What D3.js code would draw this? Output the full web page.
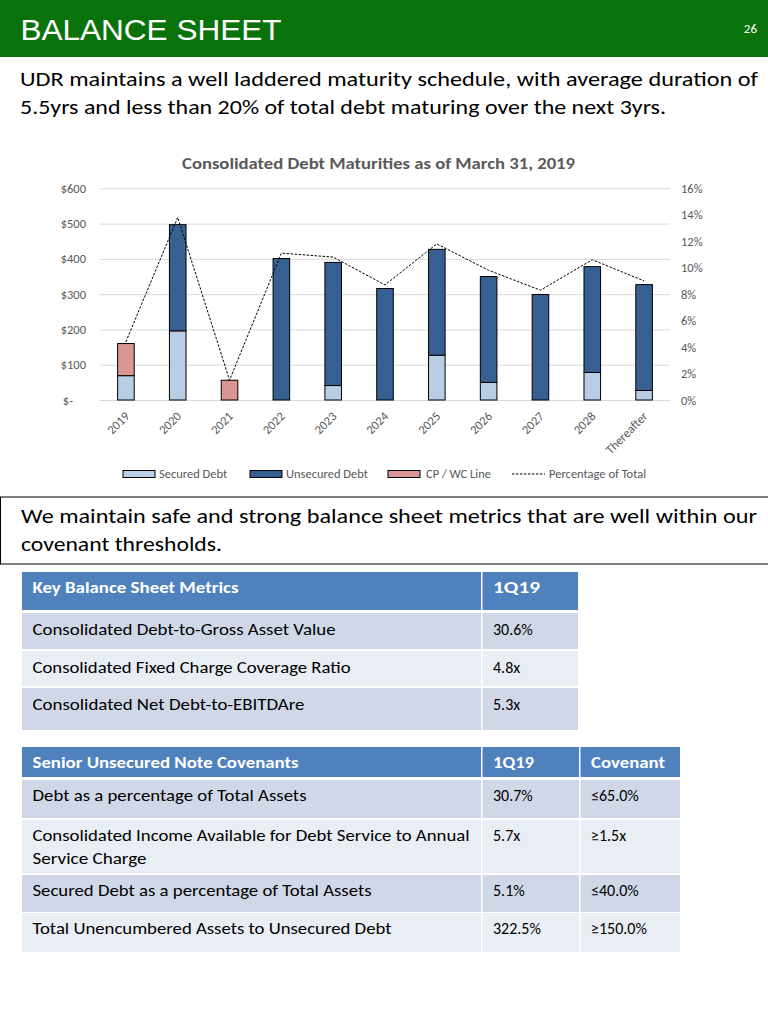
<!DOCTYPE html>
<html>
<head>
<meta charset="utf-8">
<script src="https://cdn.jsdelivr.net/npm/d3@7"></script>
<style>
  html, body { margin: 0; padding: 0; background: #fff; }
  svg { display: block; }
</style>
</head>
<body>
<div id="chart"></div>
<script>
// ---------------- data ----------------
const categories = ["2019","2020","2021","2022","2023","2024","2025","2026","2027","2028","Thereafter"];
const securedDebt   = [69, 196, 0, 0, 41, 0, 127, 50, 0, 78, 27];
const unsecuredDebt = [0, 301, 0, 401, 349, 316, 300, 300, 299, 300, 300];
const cpWcLine      = [91, 0, 56, 0, 0, 0, 0, 0, 0, 0, 0];
const pctOfTotal    = [4.4, 13.8, 1.5, 11.1, 10.8, 8.7, 11.8, 9.8, 8.3, 10.6, 9.0];
const dollarTicks   = [0, 100, 200, 300, 400, 500, 600];
const pctTicks      = [0, 2, 4, 6, 8, 10, 12, 14, 16];
const seriesNames   = ["Secured Debt", "Unsecured Debt", "CP / WC Line", "Percentage of Total"];

const pageTitle = "BALANCE SHEET";
const pageNumber = "26";
const introLines = ["UDR maintains a well laddered maturity schedule, with average duration of",
                    "5.5yrs and less than 20% of total debt maturing over the next 3yrs."];
const chartTitle = "Consolidated Debt Maturities as of March 31, 2019";
const boxLines = ["We maintain safe and strong balance sheet metrics that are well within our",
                  "covenant thresholds."];

const metricsHeader = ["Key Balance Sheet Metrics", "1Q19"];
const metricsNames  = ["Consolidated Debt-to-Gross Asset Value", "Consolidated Fixed Charge Coverage Ratio", "Consolidated Net Debt-to-EBITDAre"];
const metricsValues = ["30.6%", "4.8x", "5.3x"];

const covenantHeader = ["Senior Unsecured Note Covenants", "1Q19", "Covenant"];
const covenantNames  = [["Debt as a percentage of Total Assets"],
                        ["Consolidated Income Available for Debt Service to Annual", "Service Charge"],
                        ["Secured Debt as a percentage of Total Assets"],
                        ["Total Unencumbered Assets to Unsecured Debt"]];
const covenantValues = ["30.7%", "5.7x", "5.1%", "322.5%"];
const covenantLimits = ["\u226465.0%", "\u22651.5x", "\u226440.0%", "\u2265150.0%"];

// ---------------- setup ----------------
const W = 768, H = 1018;
const FONT = "Carlito, Calibri, Lato, 'Open Sans', sans-serif";
const svg = d3.select("#chart").append("svg").attr("width", W).attr("height", H);
svg.append("rect").attr("width", W).attr("height", H).attr("fill", "#fff");

function text(g, o) {
  const t = g.append("text")
    .attr("x", o.x).attr("y", o.y)
    .attr("font-family", o.family || FONT)
    .attr("font-size", o.size)
    .attr("font-weight", o.weight || "normal")
    .attr("fill", o.fill || "#000")
    .attr("text-anchor", o.anchor || "start")
    .text(o.text);
  if (o.len) {
    t.attr("textLength", o.len).attr("lengthAdjust", "spacingAndGlyphs");
  }
  return t;
}

// ---------------- header ----------------
svg.append("rect").attr("x", 0).attr("y", 0).attr("width", W).attr("height", 57).attr("fill", "#0a720a");
text(svg, {x: 20.5, y: 40, text: pageTitle, size: 30, family: "Arial, 'Liberation Sans', sans-serif", fill: "#fff", len: 261});
text(svg, {x: 757, y: 33, text: pageNumber, size: 13, fill: "#fff", anchor: "end"});

text(svg, {x: 20, y: 86, text: introLines[0], size: 20, len: 738});
text(svg, {x: 20, y: 114.3, text: introLines[1], size: 20, len: 646});

// ---------------- chart ----------------
const plot = {left: 100, right: 670, top: 188.3, bottom: 400};
const x = d3.scaleBand().domain(categories).range([plot.left, plot.right]).paddingInner(0.68).paddingOuter(0.34);
const y = d3.scaleLinear().domain([0, 600]).range([plot.bottom, plot.top]);
const yp = d3.scaleLinear().domain([0, 16]).range([plot.bottom, plot.top]);

const chart = svg.append("g");
text(chart, {x: 378.5, y: 168.5, text: chartTitle, size: 16, weight: "bold", fill: "#595959", anchor: "middle", len: 393});

// gridlines
const grid = chart.append("g").attr("transform", `translate(${plot.left},0)`)
  .call(d3.axisLeft(y).tickValues(dollarTicks).tickSize(-(plot.right - plot.left)).tickFormat(""));
grid.select(".domain").remove();
grid.selectAll(".tick line").attr("stroke", "#d9d9d9").attr("stroke-width", 1);

// left axis labels
const yAx = chart.append("g").attr("transform", `translate(${plot.left},0)`)
  .call(d3.axisLeft(y).tickValues(dollarTicks).tickSize(0).tickPadding(14)
    .tickFormat(d => d === 0 ? "$-" : "$" + d));
yAx.select(".domain").remove();
yAx.selectAll("text").attr("font-family", FONT).attr("font-size", 12.5).attr("fill", "#595959");
yAx.selectAll(".tick").filter(d => d === 0).select("text").attr("x", -27);

// right axis labels
const ypAx = chart.append("g").attr("transform", `translate(${plot.right},0)`)
  .call(d3.axisRight(yp).tickValues(pctTicks).tickSize(0).tickPadding(11).tickFormat(d => d + "%"));
ypAx.select(".domain").remove();
ypAx.selectAll("text").attr("font-family", FONT).attr("font-size", 12.5).attr("fill", "#595959");

// x axis labels
const xAx = chart.append("g").attr("transform", `translate(0,${plot.bottom})`)
  .call(d3.axisBottom(x).tickSize(0).tickPadding(0));
xAx.select(".domain").remove();
xAx.selectAll("text")
  .attr("font-family", FONT).attr("font-size", 12.5).attr("fill", "#595959")
  .attr("text-anchor", "end")
  .attr("y", 0).attr("dy", 0)
  .attr("transform", `translate(${x.bandwidth()/2 - 4},17) rotate(-45)`);

// stacked bars
const keys = ["secured", "unsecured", "cp"];
const colors = {secured: "#b9cde5", unsecured: "#376092", cp: "#d99694"};
const table = categories.map((c, i) => ({cat: c, secured: securedDebt[i], unsecured: unsecuredDebt[i], cp: cpWcLine[i]}));
const stacked = d3.stack().keys(keys)(table);
const barsG = chart.append("g");
stacked.forEach(layer => {
  barsG.selectAll(null)
    .data(layer.filter(d => d[1] - d[0] > 0))
    .join("rect")
    .attr("x", d => x(d.data.cat))
    .attr("width", x.bandwidth())
    .attr("y", d => y(d[1]))
    .attr("height", d => y(d[0]) - y(d[1]))
    .attr("fill", colors[layer.key])
    .attr("stroke", "#000")
    .attr("stroke-width", 1);
});

// percentage line
const line = d3.line()
  .x((d, i) => x(categories[i]) + x.bandwidth() / 2)
  .y(d => yp(d));
chart.append("path")
  .datum(pctOfTotal)
  .attr("d", line)
  .attr("fill", "none")
  .attr("stroke", "#000")
  .attr("stroke-width", 1)
  .attr("stroke-dasharray", "2.5,1.5");

// legend
const legend = chart.append("g");
const legendItems = [
  {name: seriesNames[0], sx: 123, tx: 159, type: "rect", color: colors.secured},
  {name: seriesNames[1], sx: 250, tx: 286, type: "rect", color: colors.unsecured},
  {name: seriesNames[2], sx: 388, tx: 426, type: "rect", color: colors.cp},
  {name: seriesNames[3], sx: 512, tx: 549, type: "line"}
];
const ly = 474;
legendItems.forEach(it => {
  if (it.type === "rect") {
    legend.append("rect").attr("x", it.sx).attr("y", ly - 3.5).attr("width", 32).attr("height", 7)
      .attr("fill", it.color).attr("stroke", "#000").attr("stroke-width", 1);
  } else {
    legend.append("line").attr("x1", it.sx).attr("x2", it.sx + 33).attr("y1", ly).attr("y2", ly)
      .attr("stroke", "#000").attr("stroke-width", 1).attr("stroke-dasharray", "2.5,1.5");
  }
  text(legend, {x: it.tx, y: ly + 4, text: it.name, size: 12.5, fill: "#595959"});
});

// ---------------- text box ----------------
svg.append("rect").attr("x", 0.5).attr("y", 497).attr("width", W + 10).attr("height", 67)
  .attr("fill", "none").attr("stroke", "#000").attr("stroke-width", 1);
text(svg, {x: 21, y: 523, text: boxLines[0], size: 20, len: 736});
text(svg, {x: 21, y: 551, text: boxLines[1], size: 20, len: 201});

// ---------------- tables ----------------
const HEAD = "#4f81bd", BAND1 = "#d0d8e8", BAND2 = "#e9edf4";

function drawTable(cols, rows) {
  const g = svg.append("g");
  rows.forEach((r, ri) => {
    cols.forEach((c, ci) => {
      g.append("rect").attr("x", c.x).attr("y", r.y).attr("width", c.w).attr("height", r.h).attr("fill", r.fill);
      const cell = r.cells[ci];
      const lines = Array.isArray(cell) ? cell : [cell];
      lines.forEach((ln, li) => {
        text(g, {x: c.x + 10.5, y: r.y + r.base + li * 23, text: ln, size: 16,
          weight: r.header ? "bold" : "normal", fill: r.header ? "#fff" : "#000",
          len: (r.lens && r.lens[ci] && r.lens[ci][li]) || null});
      });
    });
  });
}

const t1cols = [{x: 22, w: 459}, {x: 482.5, w: 95.5}];
const t1rowsGeom = [{y: 613, h: 36}, {y: 651, h: 35}, {y: 688, h: 42}];
const t1nameLens = [303, 318, 272];
const t1rows = [{y: 572, h: 38, fill: HEAD, header: true, base: 20.5, cells: metricsHeader, lens: [[206], [47]]}]
  .concat(metricsNames.map((n, i) => ({
    y: t1rowsGeom[i].y, h: t1rowsGeom[i].h, fill: i % 2 === 0 ? BAND1 : BAND2, base: 22,
    cells: [n, metricsValues[i]], lens: [[t1nameLens[i]]]
  })));
drawTable(t1cols, t1rows);

const t2cols = [{x: 22, w: 459}, {x: 482.5, w: 96.5}, {x: 580.5, w: 99.5}];
const t2rowsGeom = [{y: 780, h: 38}, {y: 820, h: 53}, {y: 875, h: 37}, {y: 913, h: 39}];
const t2nameLens = [[274], [437, 114], [339], [359]];
const t2rows = [{y: 747, h: 30, fill: HEAD, header: true, base: 21, cells: covenantHeader, lens: [[266], [41], [74]]}]
  .concat(covenantNames.map((n, i) => ({
    y: t2rowsGeom[i].y, h: t2rowsGeom[i].h, fill: i % 2 === 0 ? BAND1 : BAND2, base: 20.5,
    cells: [n, covenantValues[i], covenantLimits[i]], lens: [t2nameLens[i]]
  })));
drawTable(t2cols, t2rows);
</script>
</body>
</html>
